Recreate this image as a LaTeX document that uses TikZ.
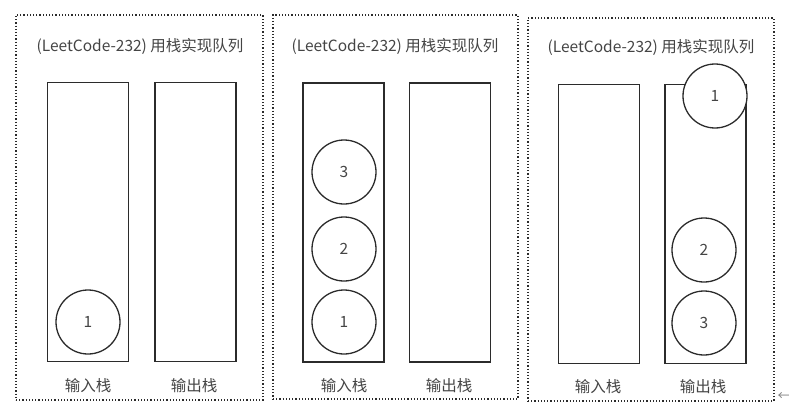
\documentclass[tikz,border=0pt]{standalone}
\usepackage{fontspec}
\setmainfont{Noto Sans CJK SC}
\usepackage{xcolor}
\usetikzlibrary{positioning}
\definecolor{lineGray}{HTML}{2B2B2B}
\definecolor{textGray}{HTML}{444444}

\begin{document}
\begin{tikzpicture}[x=1pt,y=-1pt,font=\fontsize{15.5}{18}\selectfont,
  panel/.style={draw=lineGray,dotted,line width=1.2pt,inner sep=0pt},
  stackbox/.style={draw=lineGray,line width=1.5pt,minimum width=81pt,minimum height=279pt,inner sep=0pt},
  elem/.style={circle,draw=lineGray,line width=1.3pt,fill=white,minimum size=64pt,inner sep=0pt,text=textGray},
  caption/.style={text=textGray}]
\useasboundingbox (0,0) rectangle (789,412);
% three snapshots of the two stacks
\node[panel,minimum width=247pt,minimum height=385pt] (p1) at (139.5,207.5) {};
\node[panel,minimum width=245pt,minimum height=384pt] (p2) at (395.5,207) {};
\node[panel,minimum width=246pt,minimum height=383pt] (p3) at (651,209.5) {};
\node[caption] (t1) at (140,46) {(LeetCode-232) 用栈实现队列};
\node[caption] (t2) at (395,46) {(LeetCode-232) 用栈实现队列};
\node[caption] (t3) at (651,47.5) {(LeetCode-232) 用栈实现队列};
% stacks
\node[stackbox] (in1) at (88,222) {};
\node[stackbox] (out1) at (195.5,222) {};
\node[stackbox] (in2) at (343.5,222.5) {};
\node[stackbox] (out2) at (450,222.5) {};
\node[stackbox] (in3) at (599,224) {};
\node[stackbox] (out3) at (705.5,224) {};
% elements
\node[elem] (a1) at (88,322) {1};
\node[elem] (b1) at (344,322) {1};
\node[elem] (b2) at (344,249) {2};
\node[elem] (b3) at (344,172) {3};
\node[elem] (c1) at (715,96) {1};
\node[elem] (c2) at (704,250) {2};
\node[elem] (c3) at (704,323) {3};
% captions
\node[caption] (l1) at (88,386) {输入栈};
\node[caption] (r1) at (194,386) {输出栈};
\node[caption] (l2) at (344,386) {输入栈};
\node[caption] (r2) at (449,386) {输出栈};
\node[caption] (l3) at (598,387) {输入栈};
\node[caption] (r3) at (703,387) {输出栈};
\node[text=gray,font=\fontsize{13}{15}\selectfont] (mark) at (784,397) {←};
\end{tikzpicture}
\end{document}
